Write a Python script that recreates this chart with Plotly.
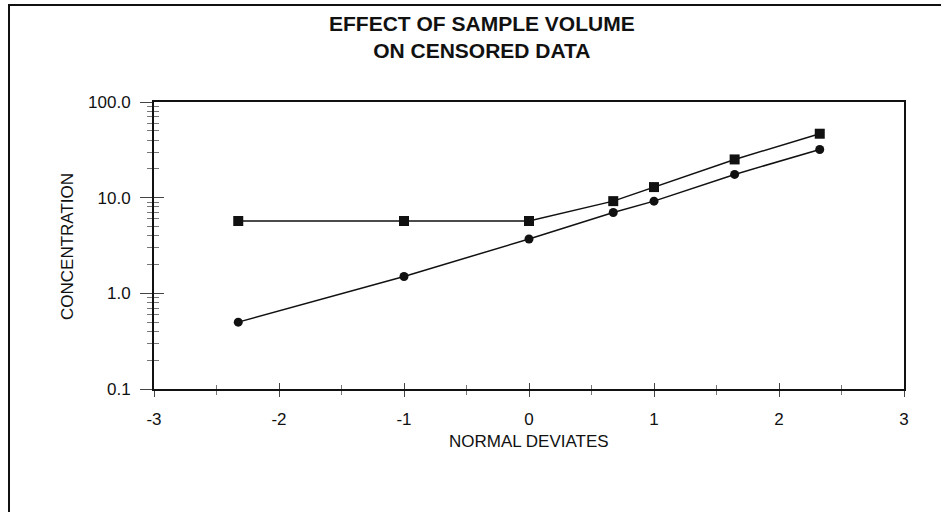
import plotly.graph_objects as go

# Data
normal_deviates = [-2.326, -1.0, 0.0, 0.674, 1.0, 1.645, 2.326]
conc_censored = [5.7, 5.7, 5.7, 9.2, 12.9, 25.1, 46.6]      # square markers
conc_full = [0.5, 1.5, 3.7, 7.0, 9.2, 17.5, 31.9]           # circle markers

x_ticks = [-3, -2, -1, 0, 1, 2, 3]
x_ticktext = ["-3", "-2", "-1", "0", "1", "2", "3"]
x_minor = [-2.5, -1.5, -0.5, 0.5, 1.5, 2.5]
y_ticks = [0.1, 1, 10, 100]
y_ticktext = ["0.1", "1.0", "10.0", "100.0"]
y_minor = [m * d for d in (0.1, 1, 10) for m in range(2, 10)]

title_text = "EFFECT OF SAMPLE VOLUME<br>ON CENSORED DATA"
x_title = "NORMAL DEVIATES"
y_title = "CONCENTRATION"

FONT = "Liberation Sans, Arial, sans-serif"
INK = "#111111"

# plot area geometry (pixels)
W, H = 941, 512
L, R, T, B = 154, 904, 102, 389


def px_x(px):
    return (px - L) / (R - L)


def px_y(py):
    return (B - py) / (B - T)


fig = go.Figure()
fig.add_trace(go.Scatter(
    x=normal_deviates, y=conc_censored, mode="lines+markers",
    line=dict(color=INK, width=1.5),
    marker=dict(symbol="square", size=10, color=INK),
    showlegend=False, hoverinfo="skip"))
fig.add_trace(go.Scatter(
    x=normal_deviates, y=conc_full, mode="lines+markers",
    line=dict(color=INK, width=1.5),
    marker=dict(symbol="circle", size=9, color=INK),
    showlegend=False, hoverinfo="skip"))
# invisible trace to host overlay axes (inner halves of crossing ticks)
fig.add_trace(go.Scatter(x=[normal_deviates[2]], y=[conc_full[2]],
                         xaxis="x2", yaxis="y2", mode="markers",
                         marker=dict(opacity=0), showlegend=False,
                         hoverinfo="skip"))

tickfont = dict(family=FONT, size=17, color=INK)

fig.update_layout(
    width=W, height=H,
    margin=dict(l=L, r=W - R, t=T, b=H - B),
    paper_bgcolor="white", plot_bgcolor="rgba(0,0,0,0)",
    xaxis=dict(range=[-3, 3], tickvals=x_ticks, ticktext=x_ticktext,
               ticks="outside", ticklen=6,
               tickwidth=1.2, tickcolor="#444", showgrid=False, zeroline=False,
               showline=True, linecolor=INK, linewidth=2, mirror=True,
               tickfont=tickfont, ticklabelstandoff=8,
               minor=dict(tickvals=x_minor, ticks="outside", ticklen=4,
                          tickwidth=1.2, tickcolor="#777", showgrid=False)),
    yaxis=dict(type="log", range=[-1, 2], tickvals=y_ticks, ticktext=y_ticktext,
               ticks="outside", ticklen=12, tickwidth=1.2, tickcolor="#444",
               showgrid=False, zeroline=False, showline=True, linecolor=INK,
               linewidth=2, mirror=True, tickfont=tickfont, ticklabelstandoff=6,
               minor=dict(tickvals=y_minor, ticks="outside", ticklen=5,
                          tickwidth=1.2, tickcolor="#777", showgrid=False)),
    xaxis2=dict(overlaying="x", anchor="y2", side="bottom", range=[-3, 3],
                tickvals=x_ticks, ticks="inside", ticklen=6, tickwidth=1.2,
                tickcolor="#444", showticklabels=False, showgrid=False,
                zeroline=False, showline=False,
                minor=dict(tickvals=x_minor, ticks="inside", ticklen=4,
                           tickwidth=1.2, tickcolor="#777", showgrid=False)),
    yaxis2=dict(overlaying="y", anchor="x2", side="left", type="log",
                range=[-1, 2], tickvals=y_ticks, ticks="inside", ticklen=10,
                tickwidth=1.2, tickcolor="#444", showticklabels=False,
                showgrid=False, zeroline=False, showline=False,
                minor=dict(tickvals=y_minor, ticks="inside", ticklen=5,
                           tickwidth=1.2, tickcolor="#777", showgrid=False)),
    shapes=[dict(type="rect", xref="paper", yref="paper",
                 x0=px_x(9), x1=px_x(960), y0=px_y(5), y1=px_y(530),
                 line=dict(color=INK, width=2), fillcolor="rgba(0,0,0,0)",
                 layer="below")],
    annotations=[
        dict(text=title_text, xref="paper", yref="paper", x=px_x(482),
             y=px_y(37.5), xanchor="center", yanchor="middle", showarrow=False,
             align="center",
             font=dict(family=FONT, size=21, color=INK, weight="bold")),
        dict(text=x_title, xref="paper", yref="paper", x=px_x(529),
             y=px_y(441), xanchor="center", yanchor="middle", showarrow=False,
             font=dict(family=FONT, size=17, color=INK)),
        dict(text=y_title, xref="paper", yref="paper", x=px_x(67),
             y=px_y(247), xanchor="center", yanchor="middle", showarrow=False,
             textangle=-90, font=dict(family=FONT, size=17, color=INK)),
    ],
)

fig.write_html("out.html")
